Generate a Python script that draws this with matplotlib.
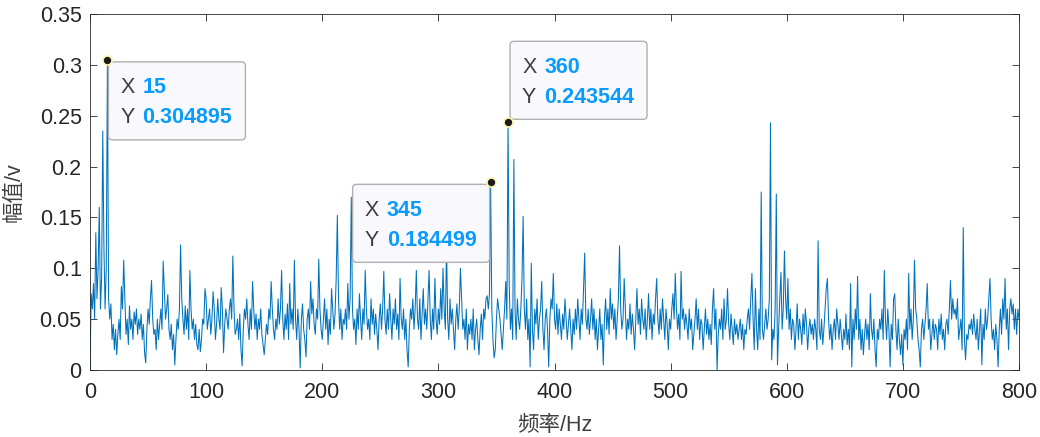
import numpy as np
import matplotlib
matplotlib.use('Agg')
import matplotlib.pyplot as plt
import matplotlib.transforms as mtransforms
from matplotlib.patches import FancyBboxPatch

plt.rcParams['font.family'] = ['Liberation Sans', 'Noto Sans CJK SC', 'DejaVu Sans']

# Amplitude spectrum, 1 Hz resolution, 0..800 Hz
amplitude = [
    0.0, 0.075, 0.06, 0.085, 0.05, 0.135, 0.07, 0.10, 0.16, 0.06, 0.09, 0.235, 0.12, 0.06, 0.10, 0.304895, 0.07, 0.05, 0.065, 0.03,
    0.045, 0.02, 0.04, 0.015, 0.035, 0.05, 0.03, 0.082, 0.06, 0.108, 0.07, 0.035, 0.05, 0.025, 0.063, 0.04, 0.05, 0.03, 0.057, 0.045,
    0.06, 0.035, 0.05, 0.04, 0.055, 0.03, 0.045, 0.017, 0.007, 0.04, 0.06, 0.045, 0.07, 0.088, 0.05, 0.035, 0.04, 0.02, 0.05, 0.03,
    0.045, 0.06, 0.04, 0.107, 0.08, 0.05, 0.06, 0.074, 0.04, 0.03, 0.045, 0.02, 0.035, 0.005, 0.03, 0.05, 0.04, 0.06, 0.123, 0.07,
    0.05, 0.035, 0.063, 0.04, 0.06, 0.03, 0.098, 0.06, 0.04, 0.05, 0.03, 0.045, 0.025, 0.02, 0.04, 0.018, 0.03, 0.05, 0.045, 0.08,
    0.07, 0.04, 0.05, 0.06, 0.035, 0.05, 0.077, 0.06, 0.03, 0.045, 0.07, 0.05, 0.04, 0.081, 0.06, 0.017, 0.045, 0.06, 0.05, 0.04,
    0.06, 0.07, 0.05, 0.112, 0.06, 0.035, 0.04, 0.05, 0.03, 0.055, 0.02, 0.004, 0.04, 0.06, 0.05, 0.07, 0.045, 0.03, 0.06, 0.04,
    0.087, 0.06, 0.04, 0.055, 0.03, 0.05, 0.04, 0.06, 0.035, 0.025, 0.015, 0.03, 0.045, 0.035, 0.06, 0.05, 0.087, 0.06, 0.04, 0.03,
    0.05, 0.04, 0.07, 0.045, 0.06, 0.098, 0.05, 0.03, 0.055, 0.04, 0.065, 0.03, 0.085, 0.045, 0.06, 0.04, 0.108, 0.05, 0.03, 0.06,
    0.04, 0.002, 0.05, 0.065, 0.04, 0.03, 0.013, 0.05, 0.06, 0.04, 0.087, 0.055, 0.07, 0.045, 0.035, 0.06, 0.05, 0.109, 0.06, 0.04,
    0.03, 0.05, 0.07, 0.04, 0.06, 0.025, 0.05, 0.035, 0.08, 0.06, 0.04, 0.055, 0.09, 0.152, 0.07, 0.04, 0.06, 0.03, 0.05, 0.045,
    0.06, 0.04, 0.085, 0.05, 0.07, 0.170, 0.06, 0.04, 0.05, 0.025, 0.06, 0.04, 0.075, 0.05, 0.03, 0.06, 0.045, 0.098, 0.06, 0.04,
    0.05, 0.03, 0.07, 0.045, 0.06, 0.035, 0.055, 0.04, 0.02, 0.05, 0.065, 0.04, 0.06, 0.097, 0.05, 0.035, 0.06, 0.04, 0.075, 0.05,
    0.03, 0.06, 0.045, 0.07, 0.04, 0.055, 0.03, 0.09, 0.05, 0.04, 0.06, 0.03, 0.05, 0.02, 0.003, 0.04, 0.06, 0.05, 0.07, 0.04,
    0.06, 0.098, 0.05, 0.04, 0.07, 0.03, 0.055, 0.08, 0.045, 0.06, 0.04, 0.07, 0.098, 0.05, 0.03, 0.06, 0.04, 0.09, 0.05, 0.035,
    0.06, 0.045, 0.08, 0.05, 0.10, 0.06, 0.04, 0.125, 0.05, 0.03, 0.07, 0.045, 0.06, 0.04, 0.02, 0.05, 0.065, 0.04, 0.06, 0.10,
    0.07, 0.04, 0.05, 0.03, 0.06, 0.02, 0.045, 0.035, 0.05, 0.03, 0.06, 0.02, 0.04, 0.05, 0.03, 0.015, 0.04, 0.055, 0.03, 0.06,
    0.05, 0.07, 0.073, 0.06, 0.075, 0.184499, 0.06, 0.03, 0.012, 0.02, 0.05, 0.07, 0.06, 0.05, 0.035, 0.02, 0.04, 0.06, 0.087, 0.05,
    0.243544, 0.085, 0.04, 0.06, 0.03, 0.207, 0.06, 0.03, 0.07, 0.05, 0.04, 0.06, 0.09, 0.151, 0.06, 0.04, 0.07, 0.03, 0.05, 0.003,
    0.105, 0.04, 0.02, 0.06, 0.045, 0.07, 0.03, 0.05, 0.06, 0.087, 0.04, 0.02, 0.05, 0.06, 0.04, 0.003, 0.05, 0.07, 0.06, 0.095,
    0.05, 0.04, 0.065, 0.035, 0.06, 0.045, 0.03, 0.055, 0.04, 0.07, 0.05, 0.03, 0.045, 0.06, 0.04, 0.02, 0.05, 0.035, 0.06, 0.04,
    0.07, 0.05, 0.03, 0.06, 0.045, 0.08, 0.115, 0.05, 0.04, 0.06, 0.035, 0.05, 0.07, 0.04, 0.06, 0.03, 0.05, 0.02, 0.04, 0.06,
    0.03, 0.045, 0.005, 0.05, 0.07, 0.04, 0.06, 0.035, 0.08, 0.05, 0.065, 0.04, 0.06, 0.03, 0.05, 0.07, 0.122, 0.06, 0.04, 0.05,
    0.09, 0.06, 0.03, 0.05, 0.04, 0.065, 0.035, 0.055, 0.04, 0.02, 0.05, 0.08, 0.045, 0.06, 0.035, 0.07, 0.05, 0.04, 0.06, 0.03,
    0.05, 0.075, 0.04, 0.06, 0.03, 0.055, 0.045, 0.07, 0.09, 0.05, 0.035, 0.06, 0.04, 0.07, 0.05, 0.03, 0.06, 0.045, 0.02, 0.05,
    0.04, 0.06, 0.075, 0.05, 0.095, 0.06, 0.04, 0.055, 0.03, 0.097, 0.05, 0.06, 0.04, 0.055, 0.045, 0.03, 0.06, 0.04, 0.05, 0.02,
    0.035, 0.05, 0.07, 0.04, 0.06, 0.03, 0.05, 0.045, 0.02, 0.04, 0.06, 0.035, 0.05, 0.03, 0.045, 0.025, 0.06, 0.08, 0.04, 0.06,
    0.0, 0.035, 0.05, 0.04, 0.06, 0.03, 0.07, 0.04, 0.05, 0.08, 0.045, 0.03, 0.055, 0.04, 0.025, 0.05, 0.035, 0.045, 0.03, 0.04,
    0.05, 0.03, 0.045, 0.02, 0.04, 0.035, 0.05, 0.06, 0.04, 0.07, 0.095, 0.05, 0.02, 0.08, 0.04, 0.02, 0.06, 0.03, 0.175, 0.04,
    0.03, 0.045, 0.06, 0.04, 0.05, 0.07, 0.243, 0.01, 0.04, 0.03, 0.06, 0.173, 0.005, 0.04, 0.07, 0.096, 0.04, 0.06, 0.117, 0.07,
    0.05, 0.09, 0.04, 0.06, 0.03, 0.05, 0.045, 0.02, 0.04, 0.065, 0.03, 0.05, 0.04, 0.025, 0.055, 0.035, 0.06, 0.045, 0.02, 0.04,
    0.05, 0.035, 0.045, 0.03, 0.05, 0.04, 0.02, 0.127, 0.04, 0.03, 0.05, 0.025, 0.04, 0.06, 0.08, 0.09, 0.05, 0.03, 0.045, 0.02,
    0.04, 0.05, 0.03, 0.06, 0.045, 0.03, 0.05, 0.035, 0.02, 0.04, 0.03, 0.055, 0.025, 0.04, 0.02, 0.085, 0.003, 0.05, 0.03, 0.06,
    0.04, 0.092, 0.03, 0.05, 0.02, 0.04, 0.015, 0.035, 0.05, 0.03, 0.045, 0.02, 0.075, 0.04, 0.03, 0.05, 0.02, 0.003, 0.04, 0.03,
    0.05, 0.04, 0.06, 0.03, 0.098, 0.05, 0.03, 0.06, 0.04, 0.003, 0.045, 0.03, 0.07, 0.075, 0.04, 0.02, 0.05, 0.03, 0.015, 0.035,
    0.005, 0.04, 0.03, 0.05, 0.02, 0.095, 0.04, 0.06, 0.03, 0.05, 0.108, 0.06, 0.05, 0.03, 0.02, 0.003, 0.04, 0.05, 0.03, 0.045,
    0.06, 0.085, 0.04, 0.05, 0.02, 0.035, 0.05, 0.03, 0.045, 0.04, 0.02, 0.05, 0.035, 0.055, 0.03, 0.04, 0.02, 0.045, 0.05, 0.035,
    0.06, 0.088, 0.05, 0.07, 0.055, 0.06, 0.05, 0.07, 0.03, 0.04, 0.05, 0.02, 0.14, 0.03, 0.01, 0.035, 0.03, 0.045, 0.04, 0.05,
    0.035, 0.055, 0.04, 0.03, 0.05, 0.02, 0.04, 0.06, 0.005, 0.045, 0.03, 0.06, 0.04, 0.05, 0.07, 0.09, 0.05, 0.03, 0.04, 0.02,
    0.045, 0.03, 0.003, 0.04, 0.06, 0.035, 0.07, 0.05, 0.09, 0.04, 0.06, 0.02, 0.06, 0.07, 0.055, 0.065, 0.04, 0.06, 0.035, 0.06,
    0.05,
]
freq = np.arange(len(amplitude))

# data tips: frequency, and box placement (pixels from the point: left, bottom)
tip_x = [15, 345, 360]
tip_box = [(1, -80), (-138, -80), (2, 3)]
x_ticks = [0, 100, 200, 300, 400, 500, 600, 700, 800]
y_ticks = [0, 0.05, 0.1, 0.15, 0.2, 0.25, 0.3, 0.35]
y_tick_labels = ['0', '0.05', '0.1', '0.15', '0.2', '0.25', '0.3', '0.35']

dpi = 100
fig = plt.figure(figsize=(10.4, 4.37), dpi=dpi)
ax = fig.add_axes([90 / 1040, 1 - 370 / 437, 929 / 1040, 356 / 437])

ax.plot(freq, amplitude, color='#0072BD', linewidth=0.75)
ax.set_xlim(0, 800)
ax.set_ylim(0, 0.35)
ax.set_xticks(x_ticks)
ax.set_yticks(y_ticks)
ax.set_yticklabels(y_tick_labels)

for s in ax.spines.values():
    s.set_color('#262626')
    s.set_linewidth(0.6)
ax.tick_params(direction='in', length=5, width=0.6, colors='#262626',
               labelsize=15.5, top=True, right=True)
ax.tick_params(axis='x', pad=9)
ax.tick_params(axis='y', pad=6)
ax.set_xlabel('频率/Hz', fontsize=15.5, color='#404040', labelpad=8)
ax.set_ylabel('幅值/v', fontsize=15.5, color='#404040', labelpad=11)

# MATLAB style data tips
amp = np.asarray(amplitude)
for fx, (bx, by) in zip(tip_x, tip_box):
    fy = amp[fx]
    trans = (mtransforms.Affine2D().scale(1 / dpi) + fig.dpi_scale_trans
             + mtransforms.ScaledTranslation(fx, fy, ax.transData))
    box = FancyBboxPatch((bx, by), 137, 78, boxstyle='round,pad=0,rounding_size=4',
                         transform=trans, facecolor='#f8f8fd', edgecolor='#b0b0b0',
                         linewidth=1.0, zorder=5, clip_on=False)
    ax.add_patch(box)
    top = by + 78
    rows = [('X', '%g' % fx), ('Y', '%g' % fy)]
    for i, (name, val) in enumerate(rows):
        yy = top - 26 - 30 * i
        ax.text(bx + 12, yy, name, transform=trans, fontsize=15.5, color='#404040',
                va='center', ha='left', zorder=6)
        ax.text(bx + 34, yy, val, transform=trans, fontsize=15.5, color='#0a9bff',
                fontweight='bold', va='center', ha='left', zorder=6)
    ax.plot(fx, fy, 'o', markersize=6.5, markerfacecolor='#1a1a1a',
            markeredgecolor='#fff6b0', markeredgewidth=1.2, zorder=7, clip_on=False)

fig.savefig('out.png', dpi=dpi)
